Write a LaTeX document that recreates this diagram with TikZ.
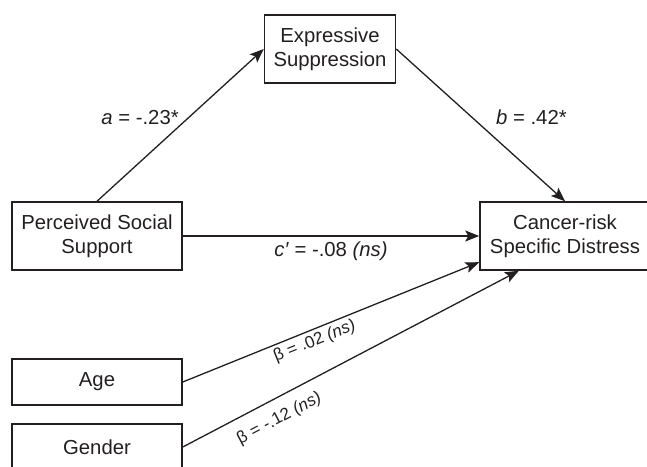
\documentclass[tikz,border=0pt]{standalone}
\usepackage{fontspec}
\setmainfont{Liberation Sans}
\usetikzlibrary{arrows.meta}
\definecolor{ink}{HTML}{231F20}
\tikzset{
  var/.style={draw=ink, line width=1.5pt, minimum width=170, minimum height=68, align=center,
    font=\fontsize{20.3}{24}\selectfont, text=ink},
  path/.style={draw=ink, line width=1.3pt, -{Stealth[length=14pt, width=11pt, inset=3pt]}},
  coef/.style={font=\fontsize{20.3}{24}\selectfont, text=ink},
  beta/.style={font=\fontsize{17}{20}\selectfont, text=ink}
}
\begin{document}
\begin{tikzpicture}[x=1pt, y=-1pt]
    \useasboundingbox (0,0) rectangle (647,466);
    \node[var, minimum width=131] (ES) at (330,49) {Expressive\\Suppression};
    \node[var] (PSS) at (97,236) {Perceived Social\\Support};
    \node[var] (CSD) at (565,236) {Cancer-risk\\Specific Distress};
    \node[var, minimum height=46] (Age) at (97,382) {Age};
    \node[var, minimum height=46] (Gen) at (97,447) {Gender};
    % mediation paths
    \draw[path] (PSS.north) -- (ES.west) node[coef, pos=.55, anchor=east, xshift=-6] {\textit{a} = -.23*};
    \draw[path] (ES.east) -- (CSD.north) node[coef, pos=.45, anchor=west, xshift=20] {\textit{b} = .42*};
    \draw[path] (PSS.east) -- (CSD.west) node[coef, midway, below=2pt] {\textit{c′} = -.08 \textit{(ns)}};
    % covariates
    \draw[path] (Age.east) -- (CSD.197) node[beta, pos=.43, sloped, below] {β = .02 \textit{(ns)}};
    \draw[path] (Gen.east) -- (CSD.217) node[beta, pos=.26, sloped, below=8pt] {β = -.12 \textit{(ns)}};
\end{tikzpicture}
\end{document}
